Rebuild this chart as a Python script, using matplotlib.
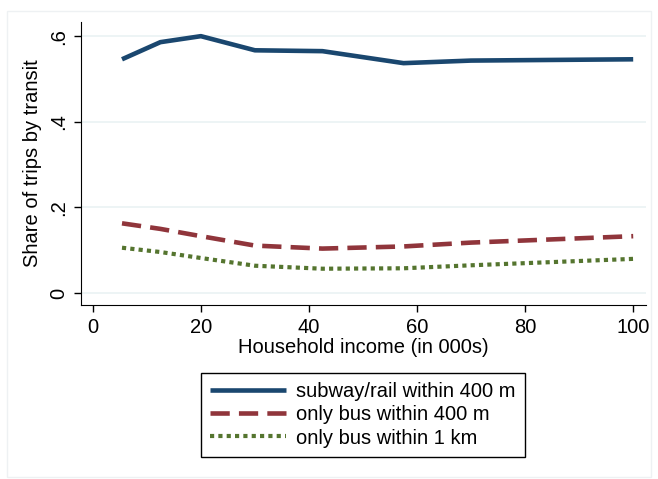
import matplotlib.pyplot as plt
from matplotlib.patches import Rectangle
from matplotlib.ticker import FuncFormatter

plt.rcParams['font.family'] = ['Liberation Sans', 'DejaVu Sans']

# household income bins (000s)
income = [5.4, 12.5, 20, 30, 42.5, 57.5, 70, 100]
subway = [0.546, 0.586, 0.600, 0.567, 0.565, 0.537, 0.543, 0.546]
bus_400 = [0.163, 0.150, 0.133, 0.111, 0.104, 0.109, 0.118, 0.133]
bus_1km = [0.106, 0.096, 0.082, 0.064, 0.057, 0.058, 0.065, 0.080]
labels = ['subway/rail within 400 m', 'only bus within 400 m', 'only bus within 1 km']

fs = 14.5

fig = plt.figure(figsize=(6.58, 4.79), dpi=100)
ax = fig.add_axes([0.123, 0.363, 0.859, 0.591])

# faint outer frame like Stata's graph region
fig.patches.append(Rectangle((7 / 658, 0.004), 1 - 14 / 658, 1 - 13 / 479,
                             transform=fig.transFigure, fill=False,
                             edgecolor='#eef1f3', linewidth=1))

ax.plot(income, subway, color='#1a476f', lw=3.3, solid_capstyle='butt', label=labels[0])
ax.plot(income, bus_400, color='#90353b', lw=3.3, dashes=(4.2, 2.0),
        dash_capstyle='butt', label=labels[1])
ax.plot(income, bus_1km, color='#55752f', lw=3.0, dashes=(1.0, 1.0),
        dash_capstyle='butt', label=labels[2])

ax.set_xlim(-2.2, 102.4)
ax.set_ylim(-0.028, 0.633)
ax.set_xticks([0, 20, 40, 60, 80, 100])
ax.set_yticks([0, 0.2, 0.4, 0.6])
ax.yaxis.set_major_formatter(FuncFormatter(lambda v, p: '0' if v == 0 else ('%.1f' % v).lstrip('0')))
ax.grid(axis='y', color='#eaf2f3', lw=1.2)
ax.set_axisbelow(True)
for s in ['top', 'right']:
    ax.spines[s].set_visible(False)
ax.tick_params(direction='out', length=5, width=1, labelsize=fs, pad=4)
for t in ax.get_yticklabels():
    t.set_rotation(90)
    t.set_va('center')
ax.set_xlabel('Household income (in 000s)', fontsize=fs, labelpad=1)
ax.set_ylabel('Share of trips by transit', fontsize=fs, labelpad=5)

leg = fig.legend(loc='center', bbox_to_anchor=(363 / 658, 1 - 415 / 479),
                 fontsize=fs, handlelength=3.75, handletextpad=0.5,
                 borderpad=0.45, labelspacing=0.2, fancybox=False,
                 edgecolor='black', framealpha=1)
leg.get_frame().set_linewidth(1)

fig.savefig('out.png', dpi=100)
